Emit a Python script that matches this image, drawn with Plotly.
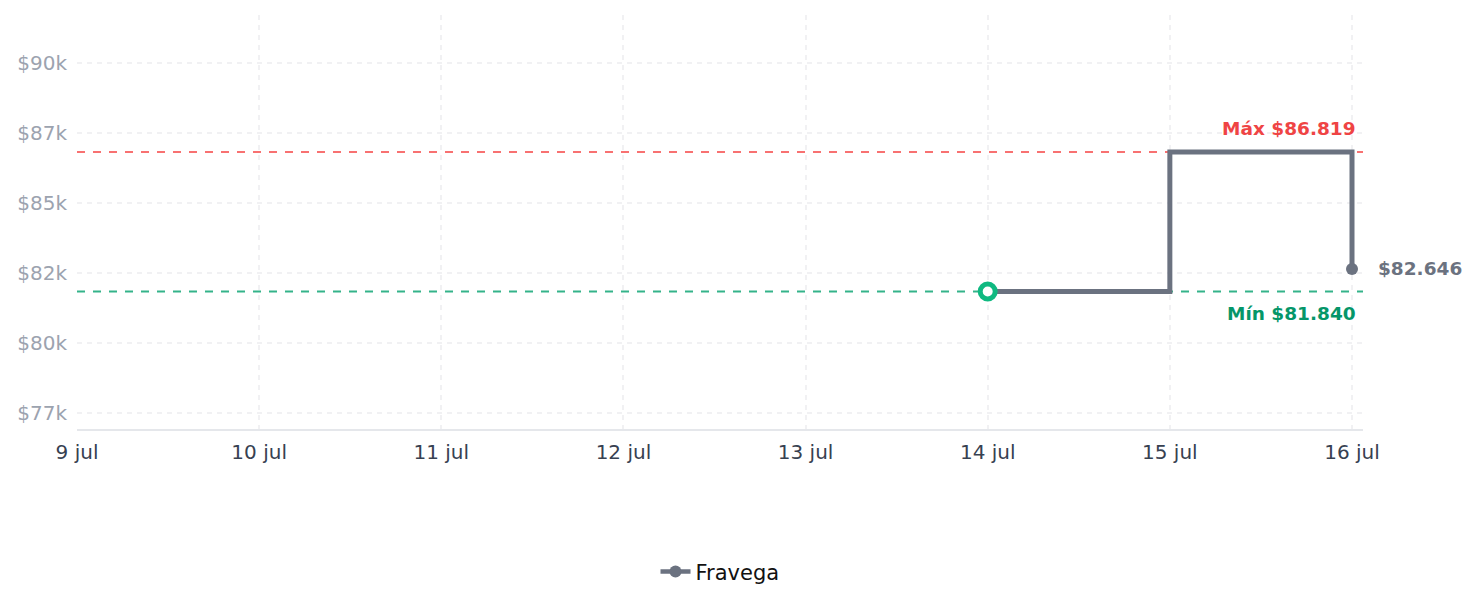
import plotly.graph_objects as go

# ---- data ----
dates = ["2025-07-14", "2025-07-15", "2025-07-16"]
prices = [81840, 86819, 82646]
series_name = "Fravega"

x_tick_vals = ["2025-07-09", "2025-07-10", "2025-07-11", "2025-07-12",
               "2025-07-13", "2025-07-14", "2025-07-15", "2025-07-16"]
x_tick_text = ["9 jul", "10 jul", "11 jul", "12 jul", "13 jul", "14 jul", "15 jul", "16 jul"]
y_tick_vals = [77500, 80000, 82500, 85000, 87500, 90000]
y_tick_text = ["$77k", "$80k", "$82k", "$85k", "$87k", "$90k"]


def fmt(v):
    return "$" + f"{v:,}".replace(",", ".")


pmax = max(prices)
pmin = min(prices)
FONT = "DejaVu Sans"
GRAY = "#6b7280"

fig = go.Figure()

# step line
fig.add_trace(go.Scatter(
    x=dates, y=prices, mode="lines", line=dict(color=GRAY, width=5, shape="hv"),
    showlegend=False, hoverinfo="skip"))

# first point (hollow green)
fig.add_trace(go.Scatter(
    x=dates[:1], y=prices[:1], mode="markers",
    marker=dict(size=15, color="white", line=dict(color="#10b981", width=5)),
    showlegend=False))

# last point (legend entry)
fig.add_trace(go.Scatter(
    x=dates[-1:], y=prices[-1:], mode="lines+markers", name=series_name,
    line=dict(color=GRAY, width=4.5),
    marker=dict(size=12, color=GRAY)))

# max / min reference lines
fig.add_shape(type="line", xref="paper", x0=0, x1=1, yref="y", y0=pmax, y1=pmax, layer="below",
              line=dict(color="#f87171", width=2, dash="8px,8px"))
fig.add_shape(type="line", xref="paper", x0=0, x1=1, yref="y", y0=pmin, y1=pmin, layer="below",
              line=dict(color="#34b38a", width=2, dash="8px,8px"))

fig.add_annotation(x=0.9965, xref="paper", y=pmax, yref="y", text="<b>Máx " + fmt(pmax) + "</b>",
                   showarrow=False, xanchor="right", yanchor="bottom", yshift=11,
                   font=dict(family=FONT, size=18.5, color="#ef4444"))
fig.add_annotation(x=0.9965, xref="paper", y=pmin, yref="y", text="<b>Mín " + fmt(pmin) + "</b>",
                   showarrow=False, xanchor="right", yanchor="top", yshift=-10,
                   font=dict(family=FONT, size=18.5, color="#059669"))
fig.add_annotation(x=dates[-1], y=prices[-1], text="<b>" + fmt(prices[-1]) + "</b>",
                   showarrow=False, xanchor="left", xshift=24,
                   font=dict(family=FONT, size=18.5, color=GRAY))

fig.update_layout(
    width=1478, height=607,
    margin=dict(l=77, r=115, t=15, b=178),
    paper_bgcolor="white", plot_bgcolor="white",
    font=dict(family=FONT, size=20),
    legend=dict(orientation="h", x=0.5, xanchor="center", y=-0.345, yanchor="middle",
                font=dict(family=FONT, size=21, color="#111111")),
    xaxis=dict(
        type="date",
        range=["2025-07-09", "2025-07-16 01:27"],
        tickvals=x_tick_vals, ticktext=x_tick_text,
        tickfont=dict(family=FONT, size=20, color="#374151"),
        showgrid=True, gridcolor="#f1f1f3", griddash="5px,5px", gridwidth=1.5,
        showline=True, linecolor="#e5e7eb", linewidth=1.5,
        zeroline=False, ticks="", ticklabelstandoff=4,
    ),
    yaxis=dict(
        range=[76929, 91714],
        tickvals=y_tick_vals, ticktext=y_tick_text,
        tickfont=dict(family=FONT, size=20, color="#9ca3af"),
        showgrid=True, gridcolor="#f1f1f3", griddash="5px,5px", gridwidth=1.5,
        showline=False, zeroline=False, ticks="", ticklabelstandoff=9,
    ),
)

fig.write_html("out.html")
